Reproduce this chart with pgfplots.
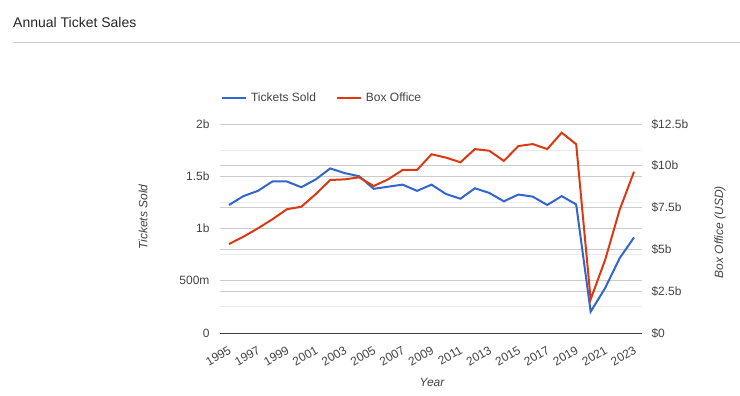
\documentclass[border=0pt]{standalone}
\usepackage{pgfplots}
\pgfplotsset{compat=1.18}
\usepackage{fontspec}
\setmainfont{Liberation Sans}
\definecolor{cblue}{HTML}{3366CC}
\definecolor{cred}{HTML}{DC3912}
\definecolor{txt}{HTML}{444444}
\begin{document}
\begin{tikzpicture}[x=1bp,y=1bp]
\useasboundingbox (0,0) rectangle (740,395);
\node[anchor=west, inner sep=0, font=\fontsize{14bp}{16bp}\selectfont, text=black!85] at (13,373) {Annual Ticket Sales};
\draw[black!20, line width=0.8bp] (13,353) -- (740,353);
\begin{axis}[
  at={(220bp,62bp)}, anchor=south west,
  width=422bp, height=209bp, scale only axis,
  xmin=1994.38, xmax=2023.55, ymin=0, ymax=2,
  axis line style={draw=none}, major tick length=0, minor tick length=0,
  xtick={1995,1997,...,2023},
  xticklabels={1995,1997,1999,2001,2003,2005,2007,2009,2011,2013,2015,2017,2019,2021,2023},
  xticklabel style={rotate=30, anchor=north east, inner sep=1bp, font=\fontsize{12bp}{14bp}\selectfont, text=txt, xshift=-6bp, yshift=-9bp},
  ytick={0,0.5,1,1.5,2},
  yticklabels={0,500m,1b,1.5b,2b},
  yticklabel style={font=\fontsize{12bp}{14bp}\selectfont, text=txt, xshift=-7bp},
  minor ytick={0.25,0.75,1.25,1.75},
  extra y ticks={0.4,0.8,1.2,1.6},
  extra y tick labels={},
  ymajorgrids, yminorgrids,
  major grid style={color=black!20, line width=0.8bp},
  minor grid style={color=black!8, line width=0.8bp},
  extra y tick style={grid style={color=black!20, line width=0.8bp}},
  legend columns=2,
  legend style={at={(rel axis cs:-0.005,1.17)}, anchor=north west, draw=none, fill=none,
    font=\fontsize{12bp}{14bp}\selectfont, text=txt,
    /tikz/every even column/.append style={column sep=18bp},
    /tikz/every odd column/.append style={column sep=2bp}},
  legend image code/.code={\draw[#1, line width=2bp] (0bp,0bp) -- (24bp,0bp);},
]
\addplot[cblue, line width=2bp] coordinates {
(1995,1.225) (1996,1.31) (1997,1.36) (1998,1.45) (1999,1.45) (2000,1.395) (2001,1.47)
(2002,1.575) (2003,1.53) (2004,1.50) (2005,1.38) (2006,1.40) (2007,1.42) (2008,1.36)
(2009,1.42) (2010,1.33) (2011,1.285) (2012,1.385) (2013,1.34) (2014,1.26) (2015,1.325)
(2016,1.305) (2017,1.225) (2018,1.31) (2019,1.23) (2020,0.204) (2021,0.43) (2022,0.715) (2023,0.915)};
\addlegendentry{Tickets Sold}
\addlegendimage{cred, line width=2bp}
\addlegendentry{Box Office}
\draw[black!75, line width=0.8bp] (rel axis cs:0,0) -- (rel axis cs:1,0);
\end{axis}
\begin{axis}[
  at={(220bp,62bp)}, anchor=south west,
  width=422bp, height=209bp, scale only axis,
  xmin=1994.38, xmax=2023.55, ymin=0, ymax=12.5,
  axis line style={draw=none}, major tick length=0,
  axis x line=none, axis y line*=right,
  ytick={0,2.5,5,7.5,10,12.5},
  yticklabels={\$0,\$2.5b,\$5b,\$7.5b,\$10b,\$12.5b},
  yticklabel style={font=\fontsize{12bp}{14bp}\selectfont, text=txt, anchor=west, xshift=6bp},
]
\addplot[cred, line width=2bp] coordinates {
(1995,5.32) (1996,5.76) (1997,6.26) (1998,6.8) (1999,7.4) (2000,7.55) (2001,8.31)
(2002,9.15) (2003,9.19) (2004,9.31) (2005,8.79) (2006,9.19) (2007,9.75) (2008,9.75)
(2009,10.69) (2010,10.49) (2011,10.21) (2012,11.0) (2013,10.9) (2014,10.29) (2015,11.18)
(2016,11.3) (2017,11.0) (2018,11.98) (2019,11.29) (2020,2.01) (2021,4.37) (2022,7.36) (2023,9.65)};
\end{axis}
\node[rotate=90, font=\itshape\fontsize{12bp}{14bp}\selectfont, text=txt] at (143,178) {Tickets Sold};
\node[rotate=90, font=\itshape\fontsize{12bp}{14bp}\selectfont, text=txt] at (720,163) {Box Office (USD)};
\node[font=\itshape\fontsize{12bp}{14bp}\selectfont, text=txt] at (432,13) {Year};
\end{tikzpicture}
\end{document}
